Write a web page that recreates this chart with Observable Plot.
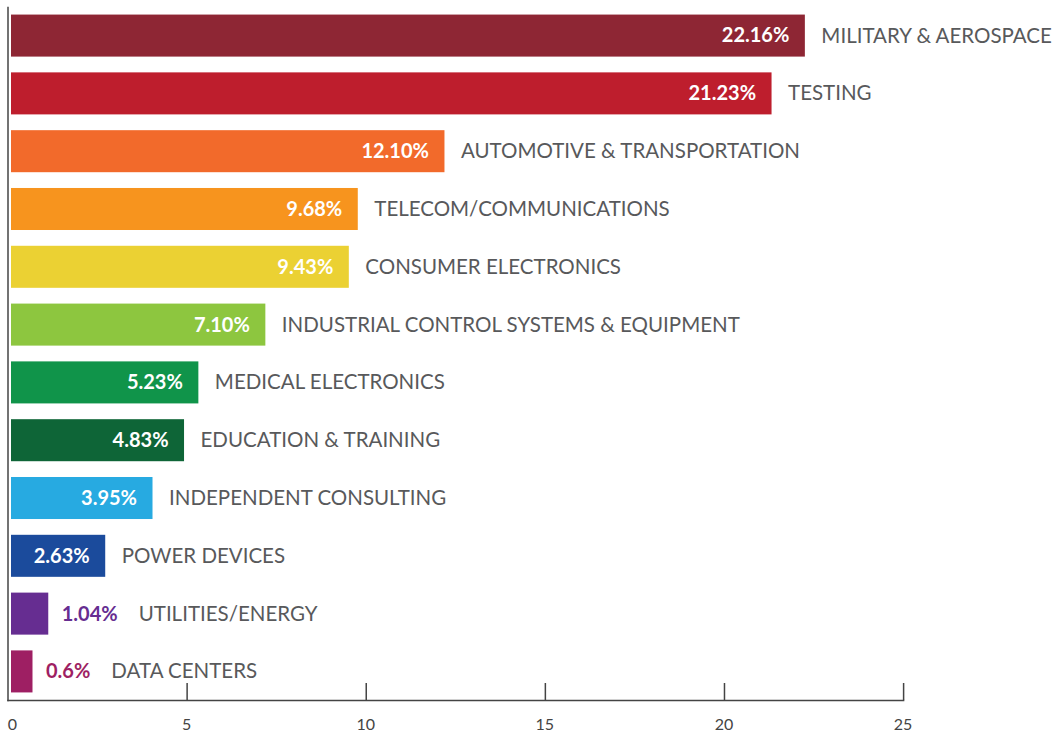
<!DOCTYPE html>
<html><head><meta charset="utf-8">
<script src="https://cdn.jsdelivr.net/npm/d3@7"></script>
<script src="https://cdn.jsdelivr.net/npm/@observablehq/plot@0.6"></script>
<style>body{margin:0;background:#fff}</style>
</head><body><div id="chart"></div>
<script>
const categories = ["MILITARY & AEROSPACE","TESTING","AUTOMOTIVE & TRANSPORTATION","TELECOM/COMMUNICATIONS","CONSUMER ELECTRONICS","INDUSTRIAL CONTROL SYSTEMS & EQUIPMENT","MEDICAL ELECTRONICS","EDUCATION & TRAINING","INDEPENDENT CONSULTING","POWER DEVICES","UTILITIES/ENERGY","DATA CENTERS"];
const values = [22.16, 21.23, 12.10, 9.68, 9.43, 7.10, 5.23, 4.83, 3.95, 2.63, 1.04, 0.6];
const valueLabels = ["22.16%","21.23%","12.10%","9.68%","9.43%","7.10%","5.23%","4.83%","3.95%","2.63%","1.04%","0.6%"];
const colors = ["#8E2634","#BE1E2D","#F26A2B","#F7941E","#EBD133","#8DC63F","#10944A","#0E6537","#27AAE1","#1B4B9C","#662D91","#9E1F63"];
const xTicks = [0, 5, 10, 15, 20, 25];

const FONT = "Lato";
const valueFont = 20, catFont = 20.5;
const rows = categories.map((c, i) => ({category: c, value: values[i], label: valueLabels[i], color: colors[i], outside: values[i] < 2}));

const ctx = document.createElement("canvas").getContext("2d");
ctx.font = `bold ${valueFont}px ${FONT}`;
const w = s => ctx.measureText(s).width;

const outsideCatMarks = rows.filter(d => d.outside).map(d =>
  Plot.text([d], {x: "value", y: "category", text: "category", textAnchor: "start",
    dx: 13 + w(d.label) + 21, fill: "#58595b", fontSize: catFont})
);

const chart = Plot.plot({
  width: 1055, height: 732,
  marginTop: 7, marginBottom: 32, marginLeft: 11, marginRight: 148.4,
  style: {fontFamily: FONT, background: "#fff"},
  x: {domain: [0, 25], axis: null},
  y: {domain: categories, paddingInner: 0.273, paddingOuter: 0.131, round: false, axis: null},
  color: {type: "identity"},
  marks: [
    Plot.barX(rows, {x: "value", y: "category", fill: "color"}),
    Plot.text(rows.filter(d => !d.outside), {x: "value", y: "category", text: "label", textAnchor: "end", dx: -16, fill: "white", fontWeight: "bold", fontSize: valueFont}),
    Plot.text(rows.filter(d => d.outside), {x: "value", y: "category", text: "label", textAnchor: "start", dx: 13, fill: "color", fontWeight: "bold", fontSize: valueFont}),
    Plot.text(rows.filter(d => !d.outside), {x: "value", y: "category", text: "category", textAnchor: "start", dx: 16, fill: "#58595b", fontSize: catFont}),
    ...outsideCatMarks,
    Plot.ruleX(xTicks.slice(1), {dx: -3.5, insetTop: 676, stroke: "#444", strokeWidth: 1.5}),
    Plot.frame({anchor: "left", dx: -3.5, stroke: "#444", strokeWidth: 1.5}),
    Plot.frame({anchor: "bottom", dx: -3.5, stroke: "#444", strokeWidth: 1.5}),
    Plot.text(xTicks.slice(0, 1), {x: d => d, text: d => String(d), frameAnchor: "bottom", lineAnchor: "middle", dy: 24, dx: 1, fontSize: 16, fill: "#444"}),
    Plot.text(xTicks.slice(1), {x: d => d, text: d => String(d), frameAnchor: "bottom", lineAnchor: "middle", dy: 24, dx: -4, fontSize: 16, fill: "#444"})
  ]
});
document.getElementById("chart").append(chart);
</script>
</body></html>
